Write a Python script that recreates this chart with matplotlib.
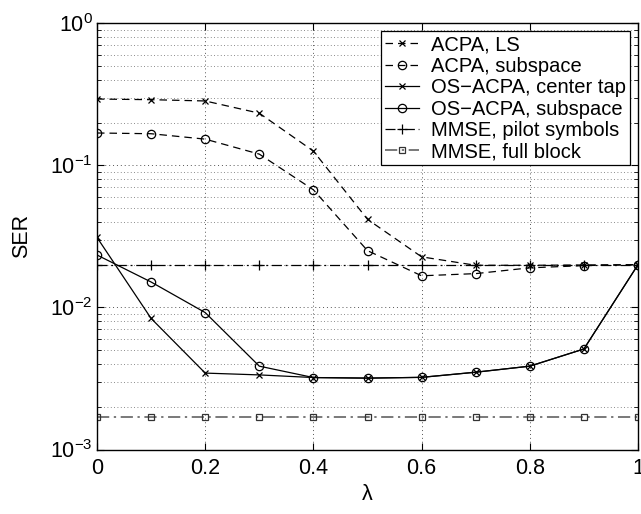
import matplotlib
matplotlib.use("Agg")
import matplotlib.pyplot as plt
import numpy as np

plt.rcParams['font.family'] = ['Liberation Sans', 'DejaVu Sans']
plt.rcParams['mathtext.fontset'] = 'custom'
plt.rcParams['mathtext.rm'] = 'Liberation Sans'
plt.rcParams['mathtext.it'] = 'Liberation Sans:italic'
plt.rcParams['mathtext.bf'] = 'Liberation Sans:bold'
plt.rcParams['mathtext.default'] = 'regular'

lam = [0.0, 0.1, 0.2, 0.3, 0.4, 0.5, 0.6, 0.7, 0.8, 0.9, 1.0]
acpa_ls = [0.293, 0.29, 0.284, 0.233, 0.126, 0.0417, 0.0227, 0.0198, 0.0198, 0.0199, 0.02]
acpa_sub = [0.169, 0.167, 0.153, 0.12, 0.0673, 0.0251, 0.0167, 0.0173, 0.019, 0.0197, 0.02]
os_center = [0.0311, 0.00837, 0.00345, 0.00335, 0.00321, 0.00318, 0.00322, 0.0035, 0.00386, 0.0051, 0.02]
os_sub = [0.0234, 0.0151, 0.0092, 0.00386, 0.00321, 0.00318, 0.00322, 0.0035, 0.00386, 0.0051, 0.02]
mmse_pilot = [0.02] * 11
mmse_full = [0.0017] * 11

labels = ["ACPA, LS", "ACPA, subspace", "OS\u2212ACPA, center tap",
          "OS\u2212ACPA, subspace", "MMSE, pilot symbols", "MMSE, full block"]

fig = plt.figure(figsize=(6.41, 5.14), dpi=100)
ax = fig.add_axes([97/641, 1 - 449.5/514, (638-97)/641, (449.5-23.3)/514])

lw = 0.9
ax.plot(lam, acpa_ls, color='k', ls=(0, (6, 4)), lw=lw, marker='x', ms=4, mew=0.9, label=labels[0])
ax.plot(lam, acpa_sub, color='k', ls=(0, (6, 4)), lw=lw, marker='o', ms=6, mfc='none', mew=0.9, label=labels[1])
ax.plot(lam, os_center, color='k', ls='-', lw=lw, marker='x', ms=4, mew=0.9, label=labels[2])
ax.plot(lam, os_sub, color='k', ls='-', lw=lw, marker='o', ms=6, mfc='none', mew=0.9, label=labels[3])
ax.plot(lam, mmse_pilot, color='k', ls=(0, (8, 3, 1.5, 3)), lw=lw, marker='+', ms=7, mew=0.9, label=labels[4])
ax.plot(lam, mmse_full, color='#555555', ls=(0, (8, 3, 1.5, 3)), lw=1.1, marker='s', ms=5, mfc='none', mec='#333333', mew=0.9, label=labels[5])

ax.set_yscale('log')
ax.set_xlim(0, 1)
ax.set_ylim(1e-3, 1)
ax.set_xticks([0, 0.2, 0.4, 0.6, 0.8, 1])
ax.set_xticklabels(['0', '0.2', '0.4', '0.6', '0.8', '1'])
ax.set_yticks([1e-3, 1e-2, 1e-1, 1])
ax.set_yticklabels(['$10^{\u22123}$', '$10^{\u22122}$', '$10^{\u22121}$', '$10^{0}$'])
ax.grid(True, which='major', axis='both', ls=(0, (1, 3)), color='#555555', lw=0.7)
ax.grid(True, which='minor', axis='y', ls=(0, (1, 3)), color='#666666', lw=0.6)
ax.tick_params(which='both', direction='in', top=True, right=True, labelsize=15.5)
ax.tick_params(axis='x', pad=6)
ax.tick_params(axis='y', pad=3)
ax.tick_params(which='major', length=5)
ax.tick_params(which='minor', length=3)
for s in ax.spines.values():
    s.set_linewidth(1.0)

ax.set_xlabel('\u03bb', fontsize=15.5, labelpad=4)
ax.set_ylabel('SER', fontsize=15.5, labelpad=13)

leg = ax.legend(loc='upper right', fontsize=14.5, frameon=True, fancybox=False,
                edgecolor='k', framealpha=1, handlelength=1.7, handletextpad=0.6,
                borderpad=0.2, labelspacing=0.12, borderaxespad=0.4)
leg.get_frame().set_linewidth(0.9)

fig.savefig('out.png', dpi=100)
